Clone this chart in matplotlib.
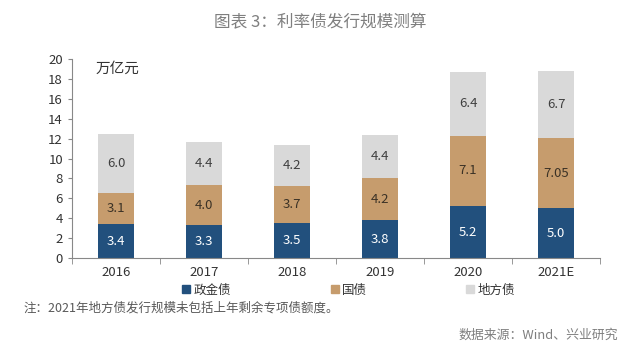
import numpy as np
import matplotlib.pyplot as plt
from matplotlib.patches import Patch

plt.rcParams['font.family'] = ['Noto Sans CJK SC', 'DejaVu Sans']

# data (万亿元)
years = ['2016', '2017', '2018', '2019', '2020', '2021E']
zhengjin = [3.4, 3.3, 3.5, 3.8, 5.2, 5.0]        # 政金债
guozhai = [3.1, 4.0, 3.7, 4.2, 7.1, 7.05]        # 国债
difang = [6.0, 4.4, 4.2, 4.4, 6.4, 6.7]          # 地方债
guozhai_txt = ['3.1', '4.0', '3.7', '4.2', '7.1', '7.05']
names = ['政金债', '国债', '地方债']

c_blue = '#22507d'
c_tan = '#c69c6d'
c_gray = '#d9d9d9'
colors = [c_blue, c_tan, c_gray]

fig = plt.figure(figsize=(6.4, 3.57), dpi=100)
ax = fig.add_axes([0.1125, 0.277, 0.825, 0.558])

x = np.arange(len(years))
w = 0.41
b1 = np.array(zhengjin)
b2 = b1 + np.array(guozhai)

ax.bar(x, zhengjin, w, color=c_blue)
ax.bar(x, guozhai, w, bottom=b1, color=c_tan)
ax.bar(x, difang, w, bottom=b2, color=c_gray)

for i in range(len(years)):
    ax.text(x[i], zhengjin[i] / 2, f'{zhengjin[i]:.1f}', ha='center', va='center',
            color='white', fontsize=9.5)
    ax.text(x[i], b1[i] + guozhai[i] / 2, guozhai_txt[i], ha='center', va='center',
            color='#3b3226', fontsize=9.5)
    ax.text(x[i], b2[i] + difang[i] / 2, f'{difang[i]:.1f}', ha='center', va='center',
            color='#404040', fontsize=9.5)

ax.set_xlim(-0.5, len(years) - 0.5)
ax.set_ylim(0, 20)
ax.set_yticks(range(0, 21, 2))
ax.set_xticks(x)
ax.set_xticklabels(years)
ax.set_xticks(np.arange(-0.5, len(years), 1), minor=True)
ax.tick_params(axis='x', which='major', length=0, labelsize=9.5, pad=6, colors='#333333')
ax.tick_params(axis='x', which='minor', length=4, direction='out', color='#888888')
ax.tick_params(axis='y', length=3, labelsize=9.5, colors='#333333', color='#888888')
for s in ['top', 'right']:
    ax.spines[s].set_visible(False)
ax.spines['left'].set_color('#888888')
ax.spines['bottom'].set_color('#888888')

ax.text(0.045, 0.95, '万亿元', transform=ax.transAxes, fontsize=10.5, color='#333333',
        va='center')

fig.text(0.5, 0.935, '图表 3：利率债发行规模测算', ha='center', va='center',
         fontsize=12, color='#7f7f7f')

# legend entries placed one by one, like the original
leg_x = [182, 331, 466]
for name, col, lx in zip(names, colors, leg_x):
    leg = fig.legend(handles=[Patch(color=col, label=name)], loc='center left',
                     bbox_to_anchor=(lx / 640, 1 - 290 / 357), frameon=False,
                     fontsize=9, handlelength=0.6, handleheight=0.6,
                     handletextpad=0.3, borderpad=0, borderaxespad=0)
    for t in leg.get_texts():
        t.set_color('#333333')

fig.text(23 / 640, 1 - 308 / 357, '注：2021年地方债发行规模未包括上年剩余专项债额度。',
         fontsize=9, color='#595959', va='center')
fig.text(618 / 640, 1 - 335 / 357, '数据来源：Wind、兴业研究', fontsize=9.3,
         color='#7f7f7f', ha='right', va='center')

fig.savefig('out.png', dpi=100)
